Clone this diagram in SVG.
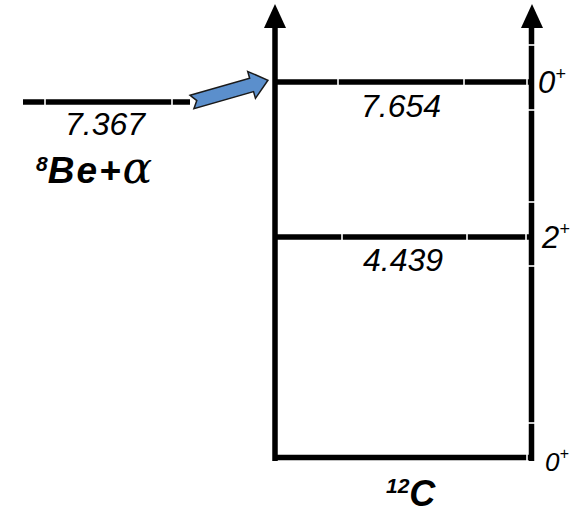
<svg xmlns="http://www.w3.org/2000/svg" width="581" height="514" viewBox="0 0 581 514">
<style>
.ax{stroke:#000;stroke-width:5.5;fill:none}
.lv{stroke:#000;stroke-width:5.5;fill:none}
.gap{stroke:#fff;stroke-width:1.6}
.num{font-family:"Liberation Sans",Arial,sans-serif;font-style:italic;font-size:32px;fill:#000}
.jp{font-family:"Liberation Sans",Arial,sans-serif;font-style:italic;font-size:31px;fill:#000}
.sup{font-size:18px}
.nuc{font-family:"Liberation Sans",Arial,sans-serif;font-style:italic;font-weight:bold;font-size:37px;fill:#000}
</style>
<defs>
<polygon id="head" points="0,-24 -11,0 11,0" fill="#000"/>
</defs>
<rect width="581" height="514" fill="#fff"/>
<g id="axis-left">
<line class="ax" x1="275" y1="461" x2="275" y2="26"/>
<use href="#head" x="275" y="28"/>
</g>
<g id="axis-right">
<line class="ax" x1="531.5" y1="461" x2="531.5" y2="26"/>
<use href="#head" x="532" y="28"/>
<line class="gap" x1="527" y1="45" x2="536" y2="45"/>
<line class="gap" x1="527" y1="110" x2="536" y2="110"/>
<line class="gap" x1="527" y1="202" x2="536" y2="202"/>
<line class="gap" x1="527" y1="266" x2="536" y2="266"/>
<line class="gap" x1="527" y1="423" x2="536" y2="423"/>
</g>
<g id="level-7654">
<line class="lv" x1="275" y1="82" x2="531" y2="82"/>
<line class="gap" x1="338" y1="78" x2="338" y2="86"/>
<line class="gap" x1="464" y1="78" x2="464" y2="86"/>
<line class="gap" x1="527" y1="78" x2="527" y2="86"/>
<text class="num" x="401" y="117" text-anchor="middle">7.654</text>
<text class="jp" x="538" y="93">0<tspan class="sup" dy="-13">+</tspan></text>
</g>
<g id="level-4439">
<line class="lv" x1="275" y1="237" x2="531" y2="237"/>
<line class="gap" x1="342" y1="233" x2="342" y2="241"/>
<line class="gap" x1="467" y1="233" x2="467" y2="241"/>
<line class="gap" x1="526" y1="233" x2="526" y2="241"/>
<text class="num" x="403" y="271" text-anchor="middle">4.439</text>
<text class="jp" x="542" y="248">2<tspan class="sup" dy="-13">+</tspan></text>
</g>
<g id="level-ground">
<line class="lv" x1="273" y1="457.5" x2="531" y2="457.5"/>
<line class="gap" x1="527" y1="453" x2="527" y2="462"/>
<text class="jp" x="545" y="471" style="font-size:26px">0<tspan class="sup" style="font-size:16px" dy="-12">+</tspan></text>
<text class="nuc" x="386" y="506" style="font-size:36px"><tspan style="font-size:21px" dy="-13">12</tspan><tspan dy="13">C</tspan></text>
</g>
<g id="level-be">
<line class="lv" x1="23" y1="102" x2="190" y2="102"/>
<line class="gap" x1="45" y1="98" x2="45" y2="106"/>
<line class="gap" x1="172" y1="98" x2="172" y2="106"/>
<text class="num" x="105" y="135" text-anchor="middle">7.367</text>
<text class="nuc" x="36" y="183"><tspan style="font-size:21px" dy="-12">8</tspan><tspan dy="12" style="letter-spacing:2px">Be+</tspan><tspan style="font-weight:normal;font-family:'DejaVu Serif',serif;font-size:44px">α</tspan></text>
</g>
<g id="connectors">
<polygon transform="translate(192,102) rotate(-16)" points="0,-7 62,-7 62,-14 79,0 62,14 62,7 0,7 5,0" fill="#5B8FCC" stroke="#1a1a1a" stroke-width="1.5" stroke-linejoin="miter"/>
</g>
</svg>
